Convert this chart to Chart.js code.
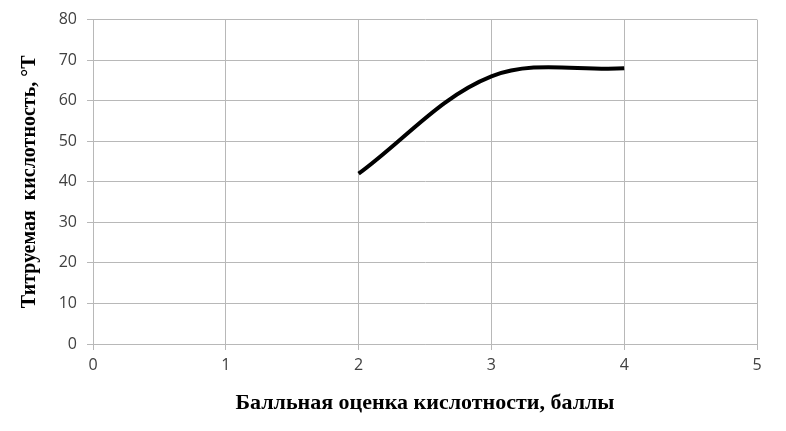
<!DOCTYPE html>
<html>
<head>
<meta charset="utf-8">
<script src="https://cdn.jsdelivr.net/npm/chart.js@4"></script>
<style>
	html, body { margin: 0; padding: 0; background: #fff; }
	#wrap { width: 786px; height: 431px; }
</style>
</head>
<body>
<div id="wrap"><canvas id="acidChart" width="786" height="431"></canvas></div>
<script>
// балльная оценка и титруемая кислотность
const scores = [2, 3, 4];
const acidity = [42, 66, 68];
const xTicks = [0, 1, 2, 3, 4, 5];
const yTicks = [0, 10, 20, 30, 40, 50, 60, 70, 80];

const gridColor = "#b8b8b8";
const tickFont = { family: "'Open Sans', 'Liberation Sans', sans-serif", size: 16 };
const serif = "'Liberation Serif', 'Times New Roman', serif";

new Chart(document.getElementById("acidChart"), {
	type: "scatter",
	data: {
		datasets: [{
			data: scores.map((s, i) => ({ x: s, y: acidity[i] })),
			showLine: true,
			borderColor: "#000",
			borderWidth: 4,
			pointRadius: 0,
			tension: 0.35,
			fill: false
		}]
	},
	options: {
		responsive: false,
		animation: false,
		layout: { padding: { top: 18, right: 29, left: 0, bottom: 0 } },
		plugins: { legend: { display: false }, tooltip: { enabled: false } },
		scales: {
			x: {
				type: "linear",
				min: 0,
				max: 5,
				afterBuildTicks: axis => { axis.ticks = xTicks.map(v => ({ value: v })); },
				afterFit: axis => { axis.height = 87; },
				grid: { color: gridColor, lineWidth: 1, tickLength: 6 },
				border: { color: gridColor },
				ticks: { font: tickFont, color: "#404040", padding: 6 },
				title: {
					display: true,
					text: "Балльная оценка кислотности, баллы",
					font: { family: serif, size: 22, weight: "bold" },
					color: "#000",
					padding: { top: 0, bottom: 14 }
				}
			},
			y: {
				min: 0,
				max: 80,
				afterBuildTicks: axis => { axis.ticks = yTicks.map(v => ({ value: v })); },
				afterFit: axis => { axis.width = 93; },
				grid: { color: gridColor, lineWidth: 1, tickLength: 6 },
				border: { color: gridColor },
				ticks: { font: tickFont, color: "#404040", padding: 10 },
				title: {
					display: true,
					text: "Титруемая  кислотность, °Т",
					font: { family: serif, size: 20, weight: "bold" },
					color: "#000",
					padding: { top: 18, bottom: 0 }
				}
			}
		}
	}
});
</script>
</body>
</html>
